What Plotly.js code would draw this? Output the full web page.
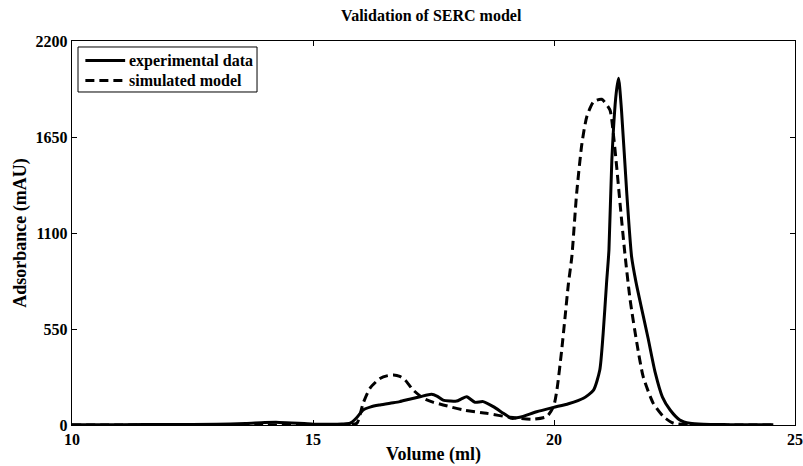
<!DOCTYPE html>
<html>
<head>
<meta charset="utf-8">
<script src="https://cdn.plot.ly/plotly-3.0.1.min.js"></script>
<style>html,body{margin:0;padding:0;background:#fff;}#chart{width:803px;height:466px;}</style>
</head>
<body>
<div id="chart"></div>
<script>
// Experimental data (solid)
const expX = [10, 11, 12, 13, 13.6, 14.0, 14.3, 14.7, 15.0, 15.4, 15.6, 15.77, 15.9, 16.04, 16.2, 16.39, 16.6, 16.8, 17.0, 17.22, 17.46, 17.57, 17.7, 17.85, 17.98, 18.08, 18.19, 18.36, 18.53, 18.74, 18.95, 19.12, 19.29, 19.64, 19.99, 20.3, 20.61, 20.82, 20.95, 21.02, 21.09, 21.14, 21.2, 21.29, 21.34, 21.4, 21.51, 21.61, 21.7, 21.8, 21.95, 22.1, 22.25, 22.41, 22.61, 22.82, 23.1, 23.6, 24.0, 24.55];
const expY = [2, 2, 3, 4, 8, 14, 15, 10, 5, 4, 6, 10, 40, 86, 104, 115, 125, 134, 148, 162, 176, 166, 143, 138, 137, 150, 162, 130, 134, 105, 67, 38, 44, 76, 101, 122, 153, 200, 315, 525, 812, 1003, 1518, 1900, 1986, 1805, 1327, 964, 820, 690, 500, 300, 160, 86, 29, 10, 4, 2, 1, 1];
// Simulated model (dashed)
const simX = [10, 12, 14, 15, 15.5, 15.75, 15.91, 16.04, 16.18, 16.39, 16.55, 16.67, 16.8, 16.91, 17.08, 17.29, 17.5, 17.7, 18.12, 18.6, 19.09, 19.57, 19.85, 19.99, 20.06, 20.16, 20.23, 20.3, 20.37, 20.47, 20.58, 20.68, 20.82, 20.99, 21.16, 21.23, 21.3, 21.37, 21.47, 21.58, 21.72, 21.85, 22.06, 22.27, 22.48, 22.8, 23.5, 24.55];
const simY = [0, 0, 0, 0, 1, 3, 10, 124, 210, 267, 283, 286, 278, 258, 200, 153, 130, 115, 86, 67, 44, 33, 48, 105, 200, 430, 620, 812, 964, 1327, 1614, 1766, 1852, 1866, 1805, 1671, 1480, 1270, 984, 716, 468, 277, 124, 48, 10, 2, 0, 0];
const seriesNames = ["experimental data", "simulated model"];
const xTicks = [10, 15, 20, 25];
const yTicks = [0, 550, 1100, 1650, 2200];

const font = {family: "Liberation Serif, Times New Roman, serif", color: "#000"};
const bold = (size) => Object.assign({size: size, weight: "bold"}, font);
const axisCommon = {
  showgrid: false, zeroline: false, showline: true, mirror: "ticks",
  linecolor: "#000", linewidth: 1.2, ticks: "inside", ticklen: 5, tickwidth: 1,
  tickcolor: "#000", tickfont: bold(16)
};
const lineStyles = [
  {color: "#000", width: 3, shape: "spline", smoothing: 0.6},
  {color: "#000", width: 3, dash: "9px,5px", shape: "spline", smoothing: 0.6}
];

const traces = [
  {x: expX, y: expY, name: seriesNames[0], mode: "lines", type: "scatter", line: lineStyles[0]},
  {x: simX, y: simY, name: seriesNames[1], mode: "lines", type: "scatter", line: lineStyles[1]}
];

// Compact MATLAB-style legend box (paper coordinates of the plot area)
const legRows = [0.949, 0.897];
const shapes = [
  {type: "rect", xref: "paper", yref: "paper", x0: 0.0083, x1: 0.2559, y0: 0.8672, y1: 0.9844,
   line: {color: "#000", width: 1}, fillcolor: "#fff", layer: "above"}
];
const annotations = [];
seriesNames.forEach((name, i) => {
  shapes.push({type: "line", xref: "paper", yref: "paper", x0: 0.0185, x1: 0.0735, y0: legRows[i], y1: legRows[i],
    line: {color: "#000", width: 3, dash: i === 1 ? "9px,5px" : "solid"}, layer: "above"});
  annotations.push({xref: "paper", yref: "paper", x: 0.0765, y: legRows[i], xanchor: "left", yanchor: "middle",
    text: name, showarrow: false, font: bold(16)});
});

const layout = {
  width: 803, height: 466,
  margin: {l: 72, r: 8, t: 41, b: 41},
  paper_bgcolor: "#fff", plot_bgcolor: "#fff",
  font: font,
  title: {text: "Validation of SERC model", font: bold(16), x: 0.537, xanchor: "center", y: 0.978, yanchor: "top"},
  xaxis: Object.assign({}, axisCommon, {range: [10, 25], tickvals: xTicks, ticktext: xTicks.map(String),
    title: {text: "Volume (ml)", font: bold(18), standoff: 0}}),
  yaxis: Object.assign({}, axisCommon, {range: [0, 2200], tickvals: yTicks, ticktext: yTicks.map(String),
    title: {text: "Adsorbance (mAU)", font: bold(18), standoff: 4}}),
  showlegend: false,
  shapes: shapes,
  annotations: annotations
};

Plotly.newPlot("chart", traces, layout, {displayModeBar: false, staticPlot: true});
</script>
</body>
</html>
